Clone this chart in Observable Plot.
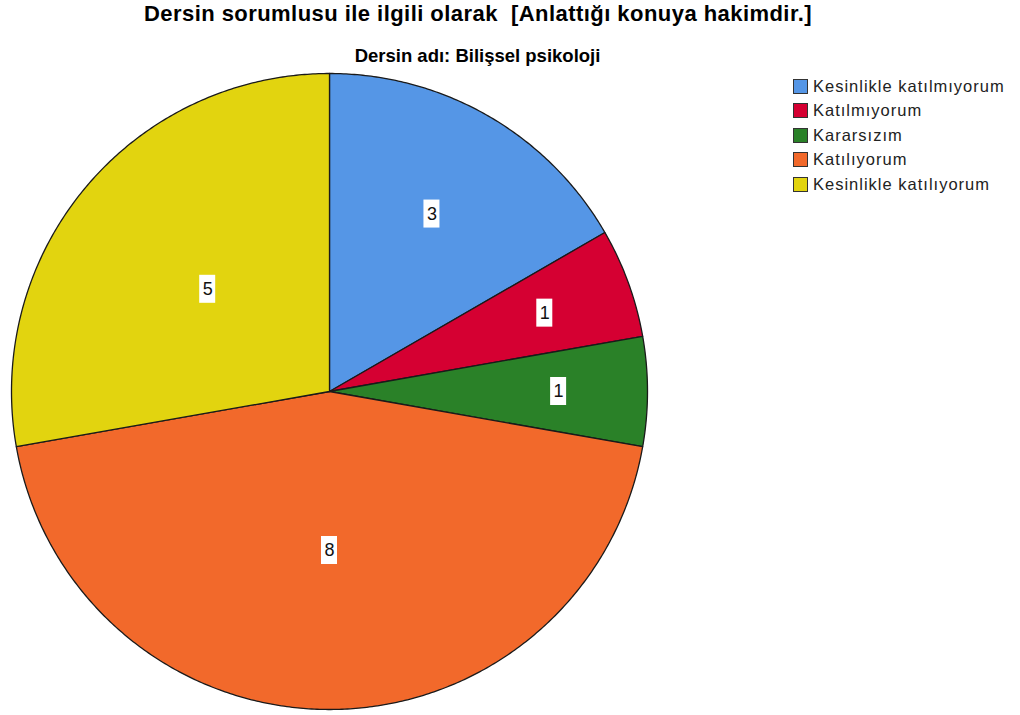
<!DOCTYPE html>
<html>
<head>
<meta charset="utf-8">
<script src="https://cdn.jsdelivr.net/npm/d3@7"></script>
<script src="https://cdn.jsdelivr.net/npm/@observablehq/plot@0.6"></script>
<style>
  html, body { margin: 0; padding: 0; background: #fff; }
  #wrap { position: relative; width: 1020px; height: 715px; overflow: hidden; }
  #title { position: absolute; left: 0; top: 1px; width: 956px; text-align: center;
    font-family: "Liberation Sans", Arial, sans-serif; font-weight: bold; font-size: 22px; letter-spacing: 0.45px; color: #000; white-space: pre; }
  #subtitle { position: absolute; left: 0; top: 45px; width: 955px; text-align: center;
    font-family: "Liberation Sans", Arial, sans-serif; font-weight: bold; font-size: 18.5px; color: #000; }
  #legend { position: absolute; left: 793px; top: 74px; font-family: "Liberation Sans", Arial, sans-serif; font-size: 16.5px; letter-spacing: 1px; color: #222; }
  .row { display: flex; align-items: center; height: 24.5px; }
  .sw { width: 15px; height: 15px; border: 1px solid #333; margin-right: 5px; box-sizing: border-box; }
  #chart { position: absolute; left: 0; top: 0; }
</style>
</head>
<body>
<div id="wrap">
  <div id="chart"></div>
  <div id="title"></div>
  <div id="subtitle"></div>
  <div id="legend"></div>
</div>
<script>
const titleText = "Dersin sorumlusu ile ilgili olarak  [Anlattığı konuya hakimdir.]";
const subtitleText = "Dersin adı: Bilişsel psikoloji";
const categories = ["Kesinlikle katılmıyorum", "Katılmıyorum", "Kararsızım", "Katılıyorum", "Kesinlikle katılıyorum"];
const counts = [3, 1, 1, 8, 5];
const colors = ["#5596E6", "#D50032", "#2A8128", "#F2692B", "#E2D40F"];

// layout
const W = 1020, H = 715;
const cx = 329, cy = 391, R = 318;

document.getElementById("title").textContent = titleText;
document.getElementById("subtitle").textContent = subtitleText;
const legend = document.getElementById("legend");
categories.forEach((c, i) => {
  const row = document.createElement("div");
  row.className = "row";
  row.innerHTML = `<div class="sw" style="background:${colors[i]}"></div><span>${c}</span>`;
  legend.appendChild(row);
});

const data = categories.map((c, i) => ({category: c, value: counts[i]}));
const arcs = d3.pie().sort(null).value(d => d.value)(data);

// polygon points for each slice
const pts = [];
arcs.forEach(a => {
  const c = a.data.category;
  pts.push({category: c, x: cx, y: cy});
  const n = Math.max(2, Math.ceil((a.endAngle - a.startAngle) / (Math.PI / 360)));
  for (let k = 0; k <= n; k++) {
    const t = a.startAngle + (a.endAngle - a.startAngle) * k / n;
    pts.push({category: c, x: cx + R * Math.sin(t), y: cy - R * Math.cos(t)});
  }
});

// label positions
const labels = arcs.map(a => {
  const span = a.endAngle - a.startAngle;
  const mid = (a.startAngle + a.endAngle) / 2;
  const f = span >= Math.PI / 2 ? 0.5 : 0.5 + 0.25 * Math.sqrt(1 - span / (Math.PI / 2));
  return {category: a.data.category, value: a.data.value,
    x: cx + R * f * Math.sin(mid), y: cy - R * f * Math.cos(mid)};
});

const bw = 8, bh = 14;
const plot = Plot.plot({
  width: W, height: H,
  margin: 0,
  x: {domain: [0, W], range: [0, W], axis: null},
  y: {domain: [0, H], range: [0, H], axis: null},
  color: {domain: categories, range: colors},
  marks: [
    Plot.line(pts, {x: "x", y: "y", z: "category", fill: "category", stroke: "#1a1a1a", strokeWidth: 1.3, curve: "linear-closed"}),
    Plot.rect(labels, {x1: d => d.x - bw, x2: d => d.x + bw, y1: d => d.y - bh, y2: d => d.y + bh, fill: "white"}),
    Plot.text(labels, {x: "x", y: "y", text: d => String(d.value), fontSize: 18, fill: "#111",
      fontFamily: "Liberation Sans, Arial, sans-serif"})
  ]
});
document.getElementById("chart").appendChild(plot);
</script>
</body>
</html>
